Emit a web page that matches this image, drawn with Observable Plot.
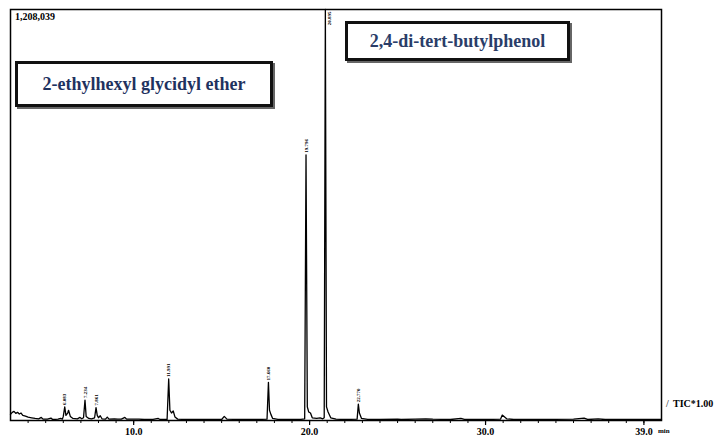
<!DOCTYPE html>
<html>
<head>
<meta charset="utf-8">
<script src="https://cdn.jsdelivr.net/npm/d3@7"></script>
<script src="https://cdn.jsdelivr.net/npm/@observablehq/plot@0.6"></script>
<style>
  html, body { margin: 0; padding: 0; background: #fff; }
  #wrap { position: relative; width: 714px; height: 437px; overflow: hidden; font-family: "Liberation Serif", "Times New Roman", serif; }
  .lbl { position: absolute; font-family: "Liberation Serif", "Times New Roman", serif; font-weight: bold; color: #000; white-space: nowrap; }
  .box { position: absolute; box-sizing: border-box; border: 3px solid #111; background: #fff;
         box-shadow: 2px 2px 0 #666; display: flex; align-items: center; justify-content: center;
         font-family: "Liberation Serif", "Times New Roman", serif;
         font-weight: bold; font-size: 18px; color: #1f325f; white-space: nowrap; }
</style>
</head>
<body>
<div id="wrap"></div>
<script>
// Retention time (min) of trace points
const traceTime = [3.0,3.1,3.2,3.3,3.4,3.5,3.6,3.7,3.85,4.0,4.2,4.4,4.6,4.75,4.85,5.1,5.3,5.4,5.7,5.85,5.95,6.0,6.083,6.15,6.25,6.3,6.4,6.55,6.8,6.95,7.05,7.15,7.234,7.3,7.45,7.6,7.78,7.861,7.93,8.0,8.1,8.2,8.4,8.5,8.6,8.9,9.1,9.3,9.5,9.6,9.9,10.3,10.6,11.1,11.4,11.5,11.9,11.991,12.06,12.15,12.25,12.35,12.5,13.0,14.0,15.0,15.15,15.3,16.0,17.0,17.58,17.66,17.72,17.8,17.9,18.2,19.5,19.72,19.796,19.87,19.95,20.05,20.15,20.4,20.6,20.75,20.83,20.895,20.96,21.05,21.2,21.5,22.0,22.7,22.77,22.83,22.95,23.3,24.0,25.0,25.2,26.0,26.6,27.0,28.0,28.6,28.8,29.5,30.0,30.85,30.95,31.2,31.6,33.0,35.0,35.6,35.8,36.4,36.8,38.0,39.0,39.6,40.0];
// TIC intensity (counts) at those times
const traceIntensity = [18000,24000,27000,21000,24000,19000,22000,15000,13000,10000,8000,6000,5000,9000,4000,4000,7000,3000,4000,6000,4000,12000,40000,15000,22000,30000,12000,6000,5000,9000,5000,8000,60000,12000,6000,5000,8000,38000,15000,8000,14000,5000,4000,10000,4000,5000,4000,4000,9000,4000,4000,4000,3000,3000,6000,3000,3000,122000,30000,22000,28000,10000,4000,3000,3000,3000,12000,4000,3000,3000,4000,112000,30000,18000,6000,3000,3000,5000,781000,40000,25000,22000,8000,6000,8000,5000,8000,1208039,40000,25000,8000,4000,3000,4000,48000,22000,6000,3000,3000,4000,3000,4000,5000,4000,3000,6000,3000,3000,3000,4000,16000,5000,3000,3000,4000,7000,3000,5000,3000,3000,3000,3000,3000];

// Labelled peaks
const peakTime = [6.083, 7.234, 7.861, 11.991, 17.660, 19.796, 22.770];
const peakIntensity = [40000, 60000, 38000, 122000, 112000, 781000, 48000];
const peakLabel = ["6.083", "7.234", "7.861", "11.991", "17.660", "19.796", "22.770"];
const topPeakTime = [20.895];
const topPeakLabel = ["20.895"];

const fullScale = 1208039;
const majorTicks = [10, 20, 30, 39];
const minorTicks = d3.range(4, 40, 1);

const trace = traceTime.map((t, i) => ({t, v: traceIntensity[i]}));
const peaks = peakTime.map((t, i) => ({t, v: peakIntensity[i], label: peakLabel[i]}));
const topPeaks = topPeakTime.map((t, i) => ({t, v: fullScale, label: topPeakLabel[i]}));

const chart = Plot.plot({
  width: 714,
  height: 437,
  marginLeft: 10,
  marginRight: 53,
  marginTop: 9,
  marginBottom: 17,
  style: {fontFamily: "Liberation Serif, serif", background: "white"},
  x: {domain: [3, 40], label: null},
  y: {domain: [0, fullScale], axis: null},
  marks: [
    Plot.axisX({ticks: minorTicks, tickSize: 3, tickFormat: () => "", strokeWidth: 1, label: null}),
    Plot.axisX({ticks: majorTicks, tickSize: 5, tickPadding: 2, tickFormat: d => d.toFixed(1),
                fontSize: 10, fontWeight: "bold", strokeWidth: 1.2, label: null}),
    Plot.line(trace, {x: "t", y: "v", stroke: "black", strokeWidth: 1.3}),
    Plot.text(peaks, {x: "t", y: "v", text: "label", rotate: -90, textAnchor: "start", dy: -2,
                      fontSize: 5, fontWeight: "bold", fill: "black"}),
    Plot.text(topPeaks, {x: "t", y: "v", text: "label", rotate: -90, textAnchor: "end", dx: 4, dy: 2,
                         fontSize: 5, fontWeight: "bold", fill: "black"}),
    Plot.frame({stroke: "black", strokeWidth: 1.5})
  ]
});

const wrap = document.getElementById("wrap");
wrap.appendChild(chart);

function addDiv(cls, text, css) {
  const d = document.createElement("div");
  d.className = cls;
  d.textContent = text;
  Object.assign(d.style, css);
  wrap.appendChild(d);
}
addDiv("lbl", "1,208,039", {left: "15px", top: "11px", fontSize: "10px"});
addDiv("lbl", "TIC*1.00", {left: "673px", top: "398px", fontSize: "10px"});
addDiv("lbl", "/", {left: "666px", top: "398px", fontSize: "10px", fontWeight: "normal"});
addDiv("lbl", "min", {left: "658px", top: "427px", fontSize: "7px"});
addDiv("box", "2-ethylhexyl glycidyl ether", {left: "15px", top: "61px", width: "258px", height: "46px"});
addDiv("box", "2,4-di-tert-butylphenol", {left: "345px", top: "21px", width: "225px", height: "40px", color: "#2a3d68"});
</script>
</body>
</html>
